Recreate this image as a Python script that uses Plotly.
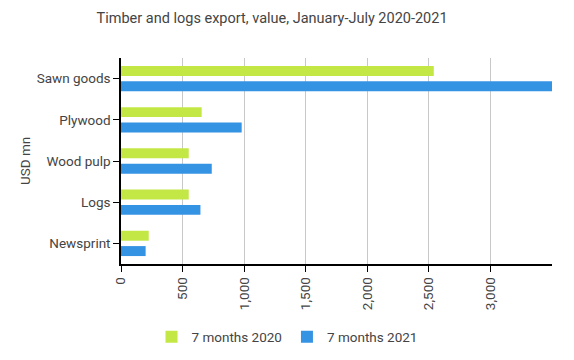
import plotly.graph_objects as go

categories = ["Sawn goods", "Plywood", "Wood pulp", "Logs", "Newsprint"]
values_2020 = [2540, 655, 550, 550, 225]
values_2021 = [3500, 980, 737, 645, 200]
series_names = ["7 months 2020", "7 months 2021"]
x_tick_vals = [0, 500, 1000, 1500, 2000, 2500, 3000]
x_tick_text = ["0", "500", "1,000", "1,500", "2,000", "2,500", "3,000"]

fig = go.Figure()
fig.add_trace(go.Bar(y=categories, x=values_2020, name=series_names[0], orientation="h",
                     marker=dict(color="#c3e846", line=dict(width=0))))
fig.add_trace(go.Bar(y=categories, x=values_2021, name=series_names[1], orientation="h",
                     marker=dict(color="#3593e3", line=dict(width=0))))

fig.update_layout(
    width=574, height=360,
    paper_bgcolor="white", plot_bgcolor="white",
    font=dict(family="Roboto", size=13.5, color="#444"),
    title=dict(text="Timber and logs export, value, January-July 2020-2021",
               x=0.474, xanchor="center", y=0.95, yanchor="middle",
               font=dict(family="Roboto", size=14.5, color="#444")),
    margin=dict(l=121, r=22, t=58, b=96, autoexpand=False),
    barmode="group", bargap=0.255, bargroupgap=0.35,
    showlegend=True,
    legend=dict(orientation="h", xref="container", yref="container",
                x=0.5, xanchor="center", y=0.064, yanchor="middle",
                font=dict(size=13.5, color="#444"), itemwidth=30),
    xaxis=dict(range=[0, 3500], tickvals=x_tick_vals, ticktext=x_tick_text,
               tickangle=-90, showgrid=True, gridcolor="#c8c8c8", gridwidth=1,
               showline=True, linecolor="black", linewidth=1.5,
               ticks="outside", ticklen=6, tickcolor="black", zeroline=False,
               automargin=False, tickfont=dict(size=13.5, color="#444")),
    yaxis=dict(autorange="reversed", showline=True, linecolor="black", linewidth=1.5,
               ticks="outside", ticklen=6, tickcolor="black", showgrid=False,
               automargin=False, tickfont=dict(size=13.5, color="#444")),
    annotations=[dict(text="USD mn", xref="paper", yref="paper", x=-0.2227, y=0.5,
                      textangle=-90, showarrow=False, xanchor="center", yanchor="middle",
                      font=dict(size=13.5, color="#444"))],
)

fig.write_html("out.html", config={"displayModeBar": False},
               post_script="document.body.style.margin='0';")
